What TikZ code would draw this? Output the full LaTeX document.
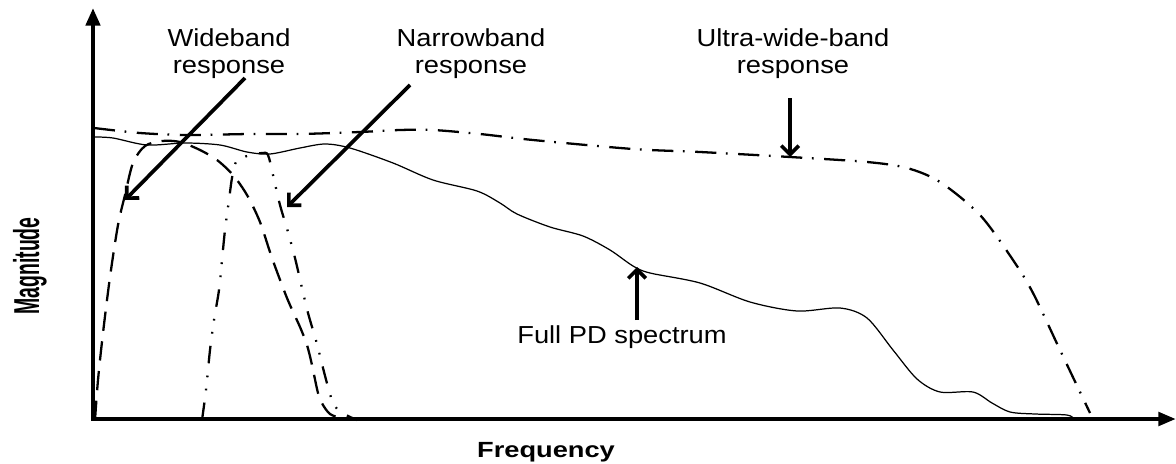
\documentclass[tikz,border=0pt]{standalone}
\usepackage{fontspec}
\setmainfont{Liberation Sans}
\usetikzlibrary{arrows.meta}
\newcommand{\lblbox}[2]{\scalebox{#1}[1]{\begin{tabular}{@{}c@{}}#2\end{tabular}}}
\begin{document}
\begin{tikzpicture}[x=0.02cm,y=-0.02cm,
  axisline/.style={line width=2.4pt, line join=miter},
  pointer/.style={line width=2.1pt, -{Straight Barb[length=5pt,width=10pt]}},
  fullpd/.style={line width=0.7pt},
  uwb/.style={line width=1.3pt, dash pattern=on 12pt off 5.5pt on 1pt off 6pt},
  wbcurve/.style={line width=1.3pt, dash pattern=on 11pt off 6pt},
  nbcurve/.style={line width=1.3pt, dash pattern=on 10pt off 7pt on 1pt off 6.5pt on 1pt off 7pt},
  lbl/.style={inner sep=0pt, font=\fontsize{14}{15.3}\selectfont},
  axlbl/.style={inner sep=0pt}
]
\useasboundingbox (0,0) rectangle (1176,463);

% axes
\coordinate (O) at (93,419);
\coordinate (ytop) at (93,8);
\coordinate (xend) at (1176,419);
\draw[axisline, {Triangle[length=10pt,width=8pt]}-{Triangle[length=10pt,width=7.5pt]}] (ytop) -- (O) -- (xend);

% ultra-wide-band response
\draw[uwb] plot[smooth, tension=0.5] coordinates {
 (94,128) (140,133) (187,135) (250,134) (300,134) (360,132) (400,130) (433,130)
 (480,134) (533,140) (633,149) (700,152) (790,157) (867,162) (907,168) (940,182)
 (980,215) (1013,260) (1033,293) (1060,350) (1090,413)};

% full PD spectrum
\draw[fullpd] plot[smooth, tension=0.5] coordinates {
 (94,137) (113,138) (147,145) (185,143) (220,145) (247,152) (270,154) (300,148)
 (325,144) (350,148) (393,163) (433,180) (477,191) (500,203) (517,214) (550,227)
 (583,236) (610,250) (633,266) (650,273) (700,283) (750,302) (797,311) (840,308)
 (867,318) (893,350) (917,379) (940,392) (973,392) (992,403) (1010,412) (1035,414)
 (1067,415) (1074,419)};

% wideband response
\draw[wbcurve] plot[smooth, tension=0.5] coordinates {
 (95,420) (98,380) (103,333) (110,277) (118,225) (125,195) (133,163) (145,146)
 (162,141) (180,142) (200,150) (217,160) (233,175) (247,195) (260,222) (272,258)
 (287,298) (300,327) (307,345) (312,365) (318,393) (323,405) (330,414) (340,418)};

% narrowband response
\draw[nbcurve] plot[smooth, tension=0.5] coordinates {
 (202,420) (206,390) (210,350) (214,320) (219,290) (222,260) (225,230) (229,200)
 (232,178) (236,162) (247,156) (262,153) (268,155) (273,175) (280,205) (288,232)
 (295,258) (302,288) (308,313) (317,344) (323,368) (328,387) (332,400) (338,410)
 (348,416) (357,420)};

% labels
\node[lbl] (wb) at (229,55) {\lblbox{1.11}{Wideband\\response}};
\node[lbl] (nb) at (471,55) {\lblbox{1.11}{Narrowband\\response}};
\node[lbl] (uw) at (793,55) {\lblbox{1.11}{Ultra-wide-band\\response}};
\node[lbl, anchor=base] (pd) at (622,343) {\scalebox{1.11}[1]{Full PD spectrum}};
\node[axlbl, anchor=base, font=\fontsize{12.5}{14}\selectfont\bfseries] (freq) at (546,457) {\scalebox{1.24}[1]{Frequency}};
\node[axlbl, anchor=base, rotate=90, font=\fontsize{20.5}{22}\selectfont\bfseries] (mag) at (39,266) {\scalebox{0.54}[1]{Magnitude}};

% pointer arrows
\coordinate (wbfrom) at (245,78);
\coordinate (wbtip) at (125,200);
\coordinate (nbfrom) at (410,85);
\coordinate (nbtip) at (287,207);
\coordinate (uwfrom) at (790,98);
\coordinate (uwtip) at (790,157);
\coordinate (pdfrom) at (637,320);
\coordinate (pdtip) at (637,267);
\draw[pointer] (wbfrom) -- (wbtip);
\draw[pointer] (nbfrom) -- (nbtip);
\draw[pointer] (uwfrom) -- (uwtip);
\draw[pointer] (pdfrom) -- (pdtip);
\end{tikzpicture}
\end{document}
